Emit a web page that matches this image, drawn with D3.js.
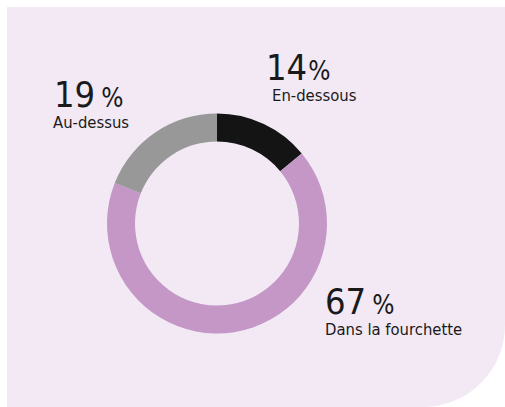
<!DOCTYPE html>
<html>
<head>
<meta charset="utf-8">
<script src="https://cdn.jsdelivr.net/npm/d3@7"></script>
<style>
  body { margin: 0; background: #fff; }
  svg { display: block; }
</style>
</head>
<body>
<div class="donut_box"></div>
<script>
// values
var categories = ["En-dessous", "Dans la fourchette", "Au-dessus"];
var shares = [14, 67, 19];
var valueLabels = ["14%", "67\u2009%", "19\u2009%"];
var colors = ["#141414", "#c497c6", "#979897"];

var width = 505;
var height = 407;

var svg = d3.select(".donut_box")
  .append("svg")
  .attr("width", width)
  .attr("height", height);

// panel with rounded bottom-right corner
var px = 7, py = 7, pw = 498, ph = 400, cr = 82;
svg.append("path")
  .attr("d", "M" + px + "," + py +
    " H" + (px + pw) +
    " V" + (py + ph - cr) +
    " A" + cr + "," + cr + " 0 0 1 " + (px + pw - cr) + "," + (py + ph) +
    " H" + px + " Z")
  .attr("fill", "#f2e9f5");

var cx = 217, cy = 223.5;
var outerR = 110, innerR = 82;

var data = categories.map(function(c, i) {
  return { key: c, value: shares[i], label: valueLabels[i], color: colors[i] };
});

var pie = d3.pie()
  .value(function(d) { return d.value; })
  .sort(null);

var arc = d3.arc()
  .innerRadius(innerR)
  .outerRadius(outerR);

var g = svg.append("g")
  .attr("transform", "translate(" + cx + "," + cy + ")");

g.selectAll(".slice")
  .data(pie(data))
  .enter()
  .append("path")
  .attr("class", "slice")
  .attr("d", arc)
  .attr("fill", function(d) { return d.data.color; });

// value text baseline and caption baseline
var labelPos = {
  "En-dessous": { x: 266, y: 80, sx: 272, sy: 101 },
  "Dans la fourchette": { x: 325, y: 314, sx: 325, sy: 335 },
  "Au-dessus": { x: 54, y: 107, sx: 53, sy: 128 }
};

var font = "'Liberation Sans Narrow', 'DejaVu Sans Condensed', sans-serif";

data.forEach(function(d) {
  var p = labelPos[d.key];
  var num = d.label.replace(/[\u2009 ]?%$/, "");
  var sep = d.label.indexOf("\u2009") >= 0 ? 6 : 1;
  var t = svg.append("text")
    .attr("x", p.x)
    .attr("y", p.y)
    .attr("fill", "#1a1a1a")
    .style("font-family", font)
    .style("font-size", "36px");
  t.append("tspan").text(num);
  t.append("tspan")
    .attr("dx", sep)
    .style("font-size", "26px")
    .text("%");

  svg.append("text")
    .attr("x", p.sx)
    .attr("y", p.sy)
    .attr("fill", "#1a1a1a")
    .style("font-family", font)
    .style("font-size", "16.5px")
    .text(d.key);
});
</script>
</body>
</html>
